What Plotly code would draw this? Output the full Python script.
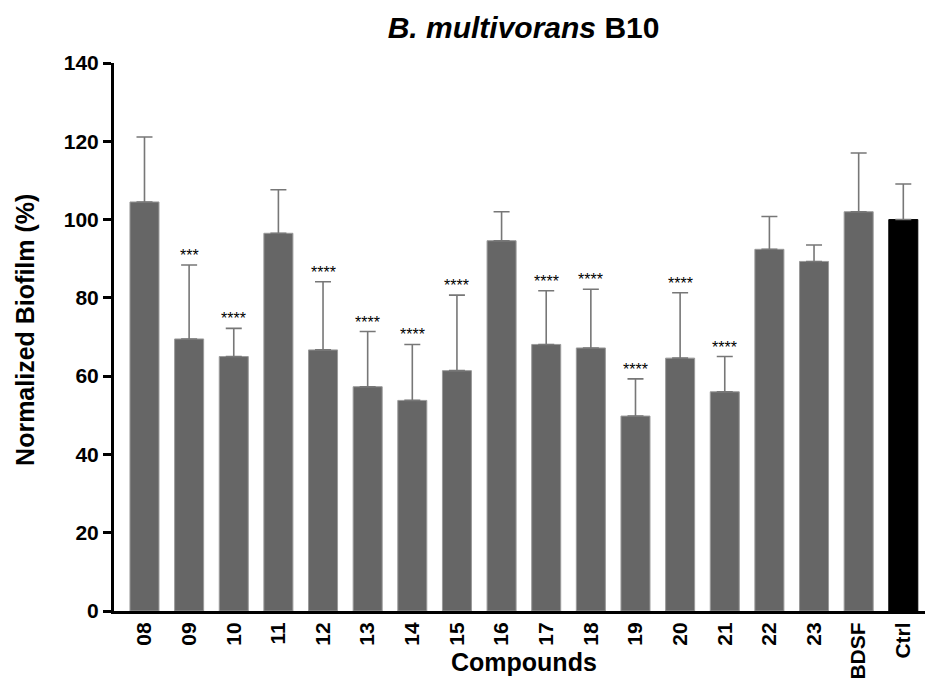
import plotly.graph_objects as go

categories = ["08", "09", "10", "11", "12", "13", "14", "15", "16", "17",
              "18", "19", "20", "21", "22", "23", "BDSF", "Ctrl"]
values = [104.5, 69.5, 65.0, 96.5, 66.7, 57.3, 53.8, 61.4, 94.6, 68.1,
          67.2, 49.8, 64.6, 56.0, 92.4, 89.3, 102.0, 100.0]
err_plus = [16.6, 18.9, 7.2, 11.1, 17.4, 14.1, 14.3, 19.3, 7.4, 13.7,
            15.0, 9.5, 16.7, 9.0, 8.4, 4.2, 15.0, 9.1]
stars = ["", "***", "****", "", "****", "****", "****", "****", "", "****",
         "****", "****", "****", "****", "", "", "", ""]
bar_colors = ["#666666"] * 17 + ["#000000"]
edge_colors = ["#9a9a9a"] * 17 + ["#000000"]

FONT = "Liberation Sans, Arial, Helvetica, sans-serif"

fig = go.Figure()
fig.add_trace(go.Bar(
    x=categories,
    y=values,
    marker=dict(color=bar_colors, line=dict(color=edge_colors, width=1)),
    error_y=dict(type="data", array=err_plus, arrayminus=[0] * len(values),
                 symmetric=False, color="#777777", thickness=1.6, width=8),
    showlegend=False,
    hoverinfo="skip",
))

annotations = []
for i, (v, e, s) in enumerate(zip(values, err_plus, stars)):
    if s:
        annotations.append(dict(
            x=i, y=v + e, xref="x", yref="y", text=s, showarrow=False,
            yanchor="bottom", yshift=-1,
            font=dict(family=FONT, size=16, color="black")))

annotations.append(dict(
    text="Normalized Biofilm (%)", textangle=-90,
    xref="paper", yref="paper", x=-0.1097, y=0.513,
    xanchor="center", yanchor="middle", showarrow=False,
    font=dict(family=FONT, size=25, color="black", weight="bold")))
annotations.append(dict(
    text="Compounds",
    xref="paper", yref="paper", x=0.5055, y=-0.064,
    xanchor="center", yanchor="top", showarrow=False,
    font=dict(family=FONT, size=25, color="black", weight="bold")))

fig.update_layout(
    width=925, height=680,
    margin=dict(l=114, r=0, t=63, b=69, autoexpand=False),
    paper_bgcolor="white", plot_bgcolor="white",
    bargap=0.35,
    title=dict(text="<i>B. multivorans</i> B10",
               x=0.566, xref="container", xanchor="center",
               y=1 - 27 / 680, yref="container", yanchor="middle",
               font=dict(family=FONT, size=30, color="black", weight="bold")),
    annotations=annotations,
    xaxis=dict(
        type="category", range=[-0.683, 17.486],
        showline=True, linecolor="black", linewidth=3,
        ticks="", tickangle=-90, showgrid=False, zeroline=False,
        tickfont=dict(family=FONT, size=21, color="black", weight="bold"),
        ticklabelstandoff=0,
    ),
    yaxis=dict(
        range=[0, 140], tickvals=[0, 20, 40, 60, 80, 100, 120, 140],
        showline=True, linecolor="black", linewidth=3,
        ticks="outside", ticklen=8, tickwidth=2.5, tickcolor="black",
        showgrid=False, zeroline=False,
        tickfont=dict(family=FONT, size=21, color="black", weight="bold"),
    ),
)

fig.write_html("out.html",
               config={"displayModeBar": False},
               post_script="document.body.style.margin='0';")
